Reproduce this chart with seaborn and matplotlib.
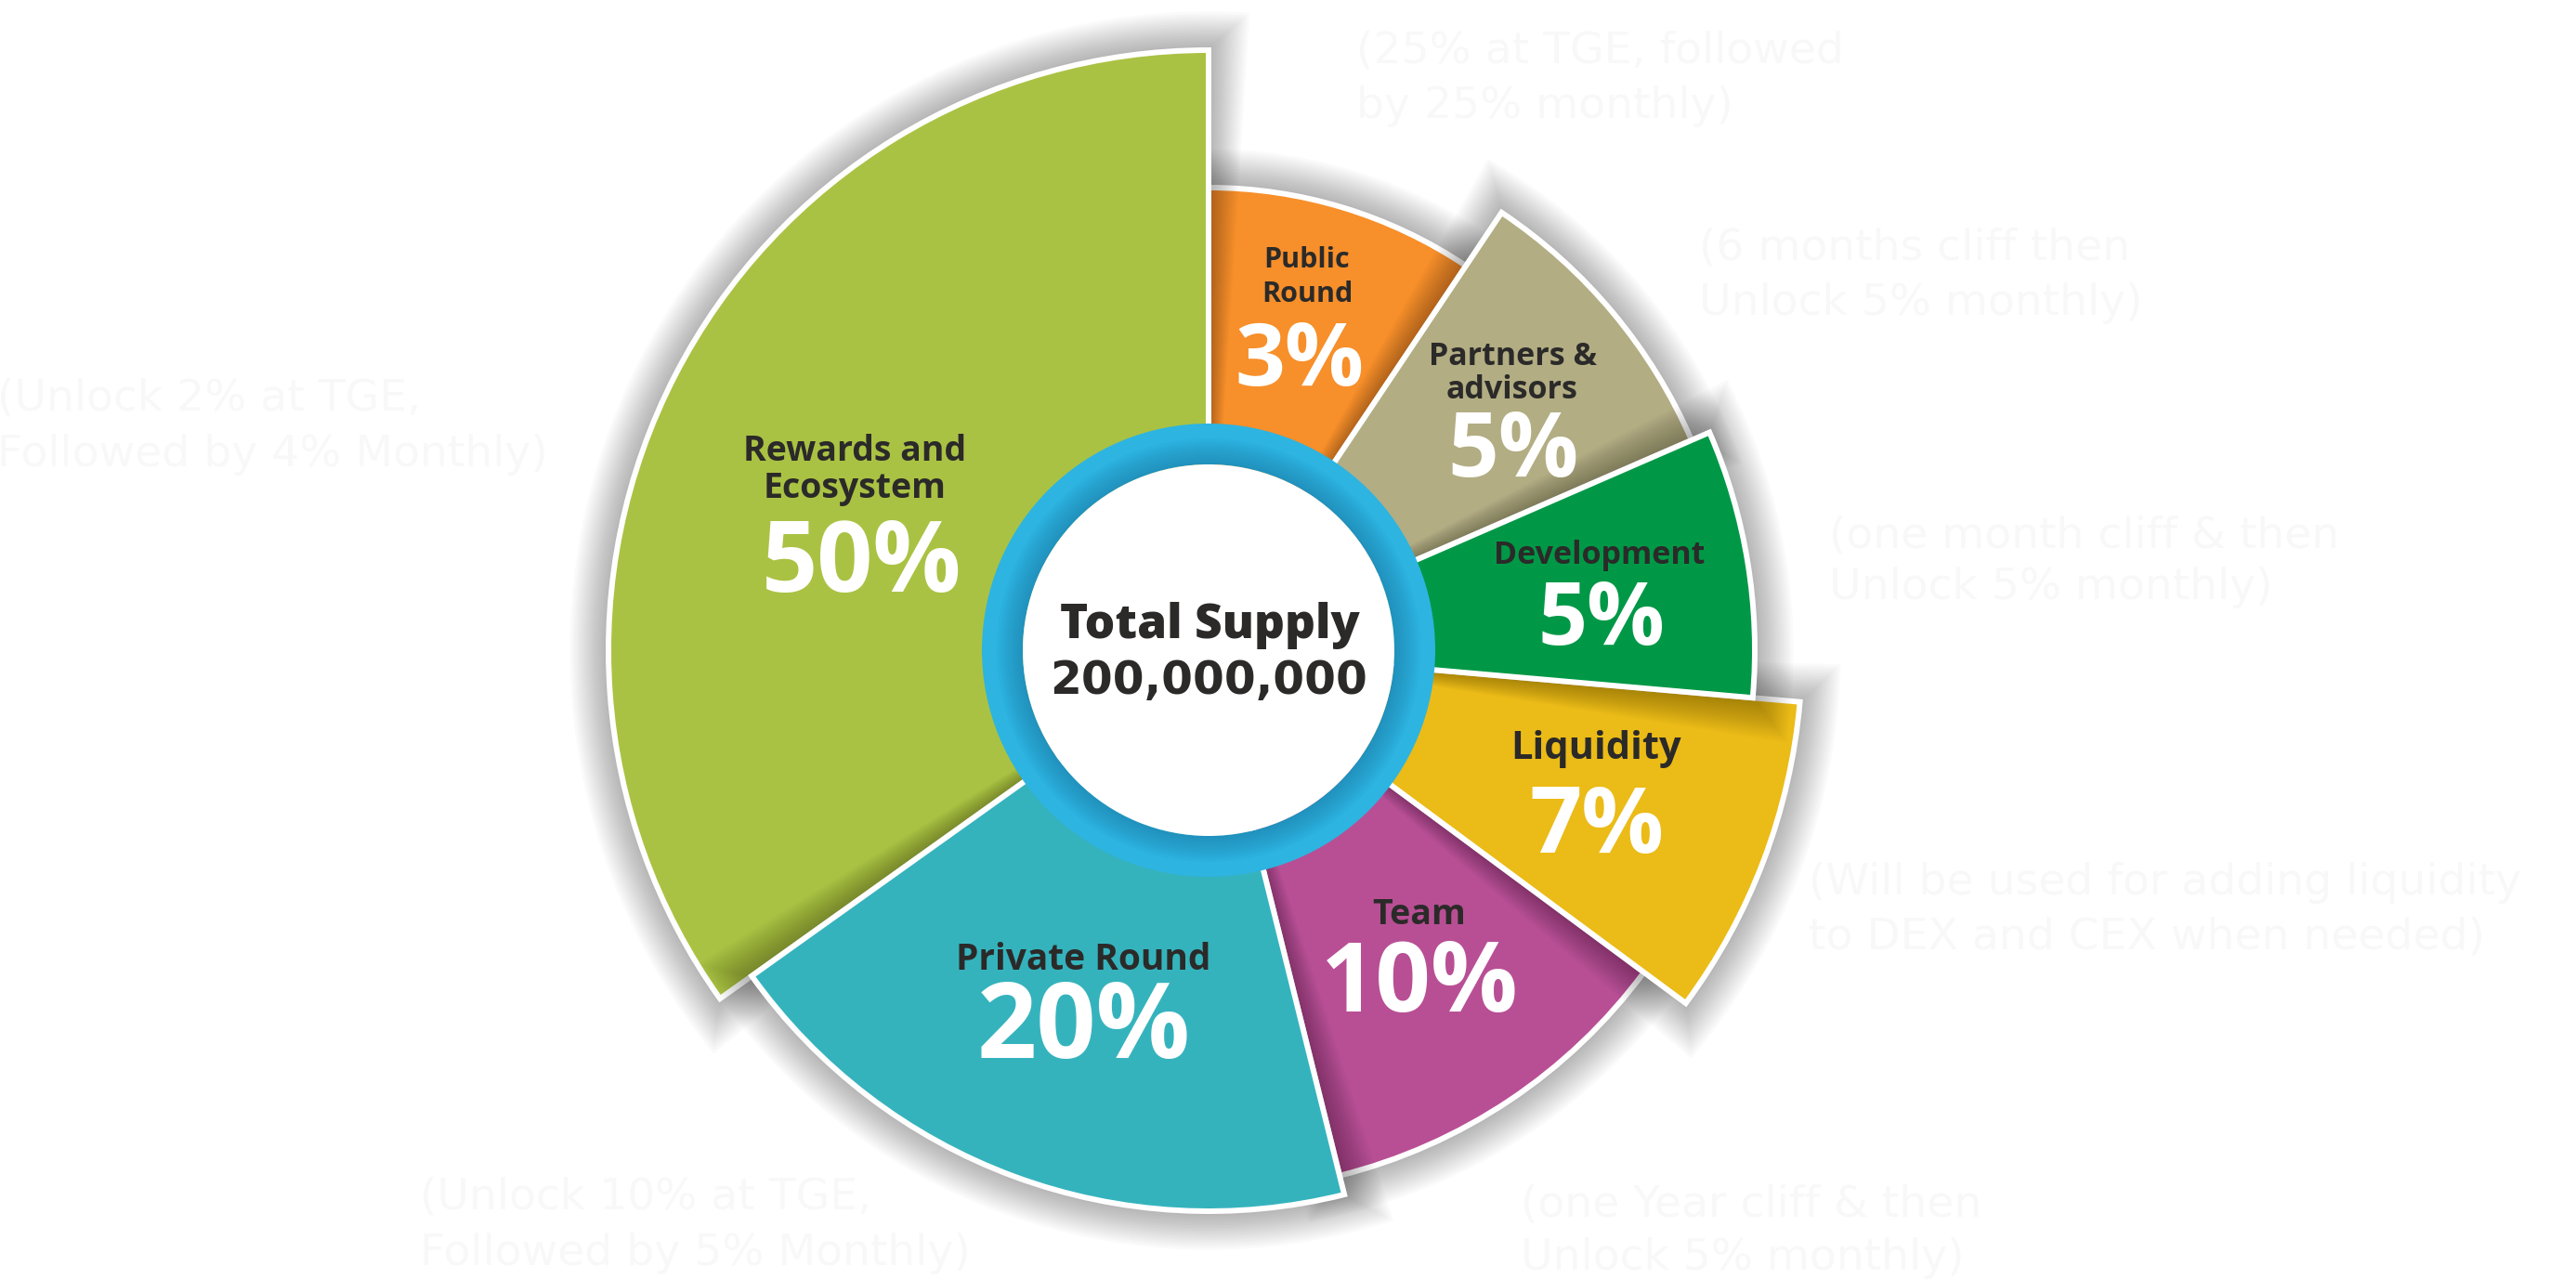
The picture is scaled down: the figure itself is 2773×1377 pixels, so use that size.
import numpy as np
import pandas as pd
import matplotlib
matplotlib.use("Agg")
import matplotlib.pyplot as plt
import seaborn as sns

# ---------------- data ----------------
categories = ["Public Round", "Partners & advisors", "Development", "Liquidity",
              "Team", "Private Round", "Rewards and Ecosystem"]
label_lines = [["Public", "Round"], ["Partners &", "advisors"], ["Development"],
               ["Liquidity"], ["Team"], ["Private Round"], ["Rewards and", "Ecosystem"]]
shares = [3, 5, 5, 7, 10, 20, 50]
center_title = "Total Supply"
total_supply = 200_000_000
vesting_notes = [
    ["(25% at TGE, followed", "by 25% monthly)"],
    ["(6 months cliff then", "Unlock 5% monthly)"],
    ["(one month cliff & then", "Unlock 5% monthly)"],
    ["(Will be used for adding liquidity", "to DEX and CEX when needed)"],
    ["(one Year cliff & then", "Unlock 5% monthly)"],
    ["(Unlock 10% at TGE,", "Followed by 5% Monthly)"],
    ["(Unlock 2% at TGE,", "Followed by 4% Monthly)"],
]

# ---------------- design / layout (not data) ----------------
start_deg = [0.0, 33.8, 66.5, 95.0, 126.5, 166.0, 234.5]
end_deg = [33.8, 66.5, 95.0, 126.5, 166.0, 234.5, 360.0]
outer_px = [498, 567, 588, 639, 583, 604, 646]
draw_order = [2, 4, 6, 3, 1, 7, 5]
palette = ["#F78F2A", "#B2AD83", "#009846", "#EBBB17", "#B84F95", "#35B3BD", "#AAC243"]

label_dx = [106, 327, 421, 417, 227, -135, -381]
label_base = [412, 307, 93, -117, -295, -344, 204]
label_gap = [37, 36, 0, 0, 0, 0, 40]
label_pt = [22, 24.5, 24.5, 30, 27, 28, 27]
pct_dx = [98, 328, 423, 418, 227, -134, -374]
pct_base = [285, 187, 6, -218, -389, -439, 63]
pct_pt = [68, 69, 67, 71, 75, 81, 76]

note_x = [1460, 1829, 1969, 1947, 1637, 452, -3]
note_base = [67, 279, 589, 963, 1310, 1302, 442]
note_gap = [60, 60, 56, 59, 57, 60, 60]

ring_outer, ring_inner = 244, 200
ring_blue = "#2DB4E1"
dark_text = "#2B2A29"
ghost = "#F8F8F8"

df = pd.DataFrame({"category": categories, "share": shares,
                   "start": start_deg, "end": end_deg, "radius": outer_px,
                   "order": draw_order, "color": palette})

# ---------------- figure ----------------
sns.set_theme(style="white")
plt.rcParams["font.family"] = ["Open Sans", "DejaVu Sans"]

W, H, DPI = 2773, 1377, 100
fig = plt.figure(figsize=(W / DPI, H / DPI), dpi=DPI, facecolor="white")
cx, cy, box = 1301, 700, 700
ax = fig.add_axes([(cx - box) / W, (H - cy - box) / H, 2 * box / W, 2 * box / H],
                  projection="polar")
ax.set_theta_zero_location("N")
ax.set_theta_direction(-1)
ax.set_rlim(0, box)
ax.set_axis_off()

K, step, shade_alpha = 16, 2.6, 0.02
for _, row in df.sort_values("order").iterrows():
    t0, t1 = np.radians(row["start"]), np.radians(row["end"])
    mid, span, r = (t0 + t1) / 2, t1 - t0, row["radius"]
    z = 2 * row["order"]
    for k in range(1, K + 1):
        ax.bar(mid, r + k * step, width=span + 2 * k * step / r, bottom=0,
               color="black", alpha=shade_alpha, linewidth=0, zorder=z - 1)
    ax.bar(mid, r, width=span, bottom=0, color=row["color"],
           edgecolor="white", linewidth=4.3, zorder=z)

# centre ring
full = 2 * np.pi
ax.bar(0, ring_outer - ring_inner, width=full, bottom=ring_inner,
       color=ring_blue, linewidth=0, zorder=20)
for j in range(10):
    ax.bar(0, 28 * (1 - j / 10), width=full, bottom=ring_inner,
           color="#13628A", alpha=0.045, linewidth=0, zorder=21)
ax.bar(0, ring_inner, width=full, bottom=0, color="white", linewidth=0, zorder=22)


def polar_at(dx, dy):
    return np.arctan2(dx, dy), np.hypot(dx, dy)


# slice labels
for i in range(len(categories)):
    for j, line in enumerate(label_lines[i]):
        th, rr = polar_at(label_dx[i], label_base[i] - j * label_gap[i])
        ax.text(th, rr, line, ha="center", va="baseline", fontsize=label_pt[i],
                fontweight="bold", color=dark_text, zorder=30)
    th, rr = polar_at(pct_dx[i], pct_base[i])
    ax.text(th, rr, f"{shares[i]}%", ha="center", va="baseline", fontsize=pct_pt[i],
            fontweight="bold", color="white", zorder=30)

# centre text
th, rr = polar_at(1, 13)
ax.text(th, rr, center_title, ha="center", va="baseline", fontsize=37,
        fontweight="heavy", color=dark_text, zorder=30)
th, rr = polar_at(0, -47)
ax.text(th, rr, f"{total_supply:,}", ha="center", va="baseline", fontsize=35,
        fontweight="bold", color=dark_text, family=["DejaVu Sans"], zorder=30)

# faint vesting notes in the background
for i, lines in enumerate(vesting_notes):
    for j, line in enumerate(lines):
        fig.text(note_x[i] / W, 1 - (note_base[i] + j * note_gap[i]) / H, line,
                 ha="left", va="baseline", fontsize=34, color=ghost,
                 family=["DejaVu Sans"], zorder=-1)

fig.savefig("out.png", dpi=DPI, facecolor="white")
